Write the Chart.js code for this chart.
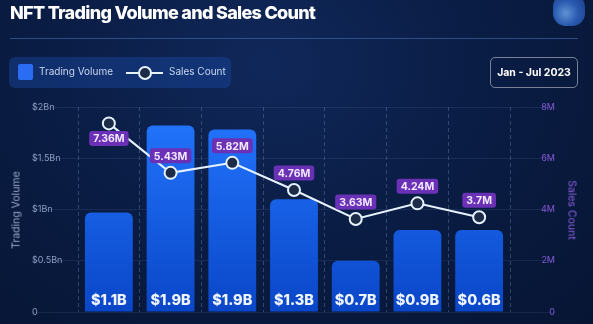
<!DOCTYPE html>
<html>
<head>
<meta charset="utf-8">
<script src="https://cdn.jsdelivr.net/npm/chart.js@4.4.0/dist/chart.umd.min.js"></script>
<style>
  body { margin: 0; }
  #wrap {
    position: relative; width: 593px; height: 324px; overflow: hidden;
    background: radial-gradient(ellipse at 45% 20%, #10285a 0%, #0a1d45 45%, #071533 100%);
    font-family: Inter, "Noto Sans", sans-serif;
  }
  #chart { position: absolute; left: 0; top: 0; }
  .title { position: absolute; left: 10px; top: 2px; color: #fff; font-weight: 800; font-size: 18px; letter-spacing: -0.7px; }
  .sep { position: absolute; left: 10px; top: 38px; width: 568px; height: 1px; background: rgba(90,130,210,0.45); }
  .legend { position: absolute; left: 9px; top: 57px; width: 222px; height: 31px; border-radius: 6px; background: rgba(25,70,160,0.45); }
  .sq { position: absolute; left: 9px; top: 7px; width: 15px; height: 16px; border-radius: 2px; background: #2a6cf2; }
  .lt { position: absolute; top: 8px; color: #c9d6ee; font-size: 10px; }
  .ln { position: absolute; left: 117px; top: 15px; width: 37px; height: 2px; background: #e8f2ff; }
  .dot { position: absolute; left: 129px; top: 9px; width: 10px; height: 10px; border-radius: 50%; border: 2px solid #e8f2ff; background: #1c2b47; }
  .date { position: absolute; left: 490px; top: 57px; width: 86px; height: 29px; border: 1px solid rgba(255,255,255,0.45); border-radius: 5px; color: #fff; font-weight: 700; font-size: 10.5px; line-height: 29px; text-align: center; }
  .logo { position: absolute; left: 553px; top: -6px; width: 32px; height: 32px; border-radius: 40%; background: radial-gradient(circle at 40% 60%, #6fa8ee 0%, #2f66c4 45%, #1a3f8c 100%); opacity: 0.85; }
  .ytl { position: absolute; left: 16px; top: 210px; color: #98a6c8; font-size: 10.5px; white-space: nowrap; transform: translate(-50%,-50%) rotate(-90deg); }
  .ytr { position: absolute; left: 572px; top: 210px; color: #8c5ee0; font-size: 10.5px; white-space: nowrap; transform: translate(-50%,-50%) rotate(90deg); }
</style>
</head>
<body>
<div id="wrap">
  <canvas id="chart" width="593" height="324"></canvas>
  <div class="title">NFT Trading Volume and Sales Count</div>
  <div class="sep"></div>
  <div class="legend">
    <div class="sq"></div>
    <div class="lt" style="left:30px">Trading Volume</div>
    <div class="ln"></div>
    <div class="dot"></div>
    <div class="lt" style="left:160px">Sales Count</div>
  </div>
  <div class="date">Jan - Jul 2023</div>
  <div class="logo"></div>
  <div class="ytl">Trading Volume</div>
  <div class="ytr">Sales Count</div>
</div>
<script>
// months (not shown as tick labels in the original)
const months = ["Jan", "Feb", "Mar", "Apr", "May", "Jun", "Jul"];
// trading volume in $B, as drawn by the bar heights
const volume = [0.97, 1.82, 1.78, 1.10, 0.50, 0.80, 0.80];
// printed labels on the bars
const volumeLabels = ["$1.1B", "$1.9B", "$1.9B", "$1.3B", "$0.7B", "$0.9B", "$0.6B"];
// sales count in millions
const sales = [7.36, 5.43, 5.82, 4.76, 3.63, 4.24, 3.7];
const volTicks = ["0", "$0.5Bn", "$1Bn", "$1.5Bn", "$2Bn"];
const salesTicks = ["0", "2M", "4M", "6M", "8M"];

function barGradient(ctx) {
    const area = ctx.chart.chartArea;
    if (!area) return "#1f66f0";
    const g = ctx.chart.ctx.createLinearGradient(0, area.top, 0, area.bottom);
    g.addColorStop(0, "#2377ff");
    g.addColorStop(1, "#0a46c8");
    return g;
}

const labelPlugin = {
    id: "labels",
    afterDatasetsDraw(chart) {
        const c = chart.ctx;
        c.save();
        // bar values
        const bars = chart.getDatasetMeta(1).data;
        c.font = "800 14.5px Inter, sans-serif";
        c.fillStyle = "#eef4ff";
        c.textAlign = "center";
        c.textBaseline = "middle";
        bars.forEach((b, i) => c.fillText(volumeLabels[i], b.x, 301));
        // sales count boxes
        const pts = chart.getDatasetMeta(0).data;
        c.font = "700 10.5px Inter, sans-serif";
        pts.forEach((p, i) => {
            const txt = sales[i] + "M";
            const w = c.measureText(txt).width + 8;
            const cy = i === 0 ? p.y + 15 : p.y - 17;
            c.fillStyle = "#6a31b6";
            c.beginPath();
            c.roundRect(p.x - w / 2, cy - 7.5, w, 15, 3);
            c.fill();
            c.fillStyle = "#f2eaff";
            c.fillText(txt, p.x, cy + 0.5);
        });
        c.restore();
    }
};

new Chart(document.getElementById("chart"), {
    data: {
        labels: months,
        datasets: [{
            type: "line",
            data: sales,
            yAxisID: "y1",
            order: 0,
            borderColor: "#e6f3ff",
            borderWidth: 2,
            pointRadius: 6,
            pointBackgroundColor: "#1c2b47",
            pointBorderColor: "#e6f3ff",
            pointBorderWidth: 2,
            tension: 0
        }, {
            type: "bar",
            data: volume,
            yAxisID: "y",
            order: 1,
            backgroundColor: barGradient,
            borderRadius: { topLeft: 6, topRight: 6 },
            borderSkipped: "bottom",
            barPercentage: 0.775,
            categoryPercentage: 1
        }]
    },
    options: {
        responsive: false,
        devicePixelRatio: 1,
        animation: false,
        layout: { padding: { left: 32, right: 38, top: 107, bottom: 12 } },
        plugins: { legend: { display: false }, tooltip: { enabled: false } },
        scales: {
            x: {
                offset: true,
                ticks: { display: false },
                border: { display: false, dash: [4, 3] },
                grid: { offset: true, drawTicks: false, color: "rgba(140,165,220,0.3)" }
            },
            y: {
                position: "left",
                min: 0, max: 2,
                afterFit: s => { s.width = 46; },
                border: { display: false },
                grid: { color: "rgba(120,150,210,0.13)", drawTicks: true, tickLength: 46 },
                ticks: {
                    stepSize: 0.5,
                    crossAlign: "far",
                    color: "#8e9cc0",
                    font: { size: 9, family: "Inter" },
                    callback: (v, i) => volTicks[i]
                }
            },
            y1: {
                position: "right",
                min: 0, max: 8,
                afterFit: s => { s.width = 45; },
                border: { display: false },
                grid: { drawOnChartArea: false, color: "rgba(120,150,210,0.13)", tickLength: 45 },
                ticks: {
                    stepSize: 2,
                    crossAlign: "far",
                    color: "#8458d6",
                    font: { size: 9, family: "Inter" },
                    callback: (v, i) => salesTicks[i]
                }
            }
        }
    },
    plugins: [labelPlugin]
});
</script>
</body>
</html>
